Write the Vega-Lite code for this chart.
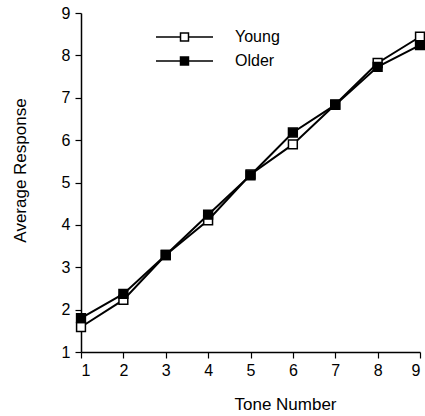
{
  "$schema": "https://vega.github.io/schema/vega-lite/v6.json",
  "autosize": "none",
  "width": 339,
  "height": 339,
  "padding": {"left": 81, "top": 13, "right": 5, "bottom": 64},
  "background": "white",
  "config": {
    "view": {"stroke": null},
    "font": "Liberation Sans",
    "axis": {
      "grid": false,
      "domainColor": "black",
      "domainWidth": 1.5,
      "tickColor": "black",
      "tickWidth": 1.2,
      "tickSize": 6,
      "labelColor": "black",
      "labelFont": "Liberation Sans",
      "labelFontSize": 16,
      "titleColor": "black",
      "titleFont": "Liberation Sans",
      "titleFontSize": 17,
      "titleFontWeight": "normal"
    }
  },
  "data": {
    "values": [
      {"tone": 1, "group": "Young", "response": 1.59},
      {"tone": 2, "group": "Young", "response": 2.23},
      {"tone": 3, "group": "Young", "response": 3.29},
      {"tone": 4, "group": "Young", "response": 4.11},
      {"tone": 5, "group": "Young", "response": 5.19},
      {"tone": 6, "group": "Young", "response": 5.9},
      {"tone": 7, "group": "Young", "response": 6.84},
      {"tone": 8, "group": "Young", "response": 7.82},
      {"tone": 9, "group": "Young", "response": 8.44},
      {"tone": 1, "group": "Older", "response": 1.8},
      {"tone": 2, "group": "Older", "response": 2.37},
      {"tone": 3, "group": "Older", "response": 3.29},
      {"tone": 4, "group": "Older", "response": 4.24},
      {"tone": 5, "group": "Older", "response": 5.17},
      {"tone": 6, "group": "Older", "response": 6.18},
      {"tone": 7, "group": "Older", "response": 6.83},
      {"tone": 8, "group": "Older", "response": 7.73},
      {"tone": 9, "group": "Older", "response": 8.24}
    ]
  },
  "encoding": {
    "x": {
      "field": "tone",
      "type": "quantitative",
      "scale": {"domain": [1, 9], "nice": false, "zero": false},
      "axis": {
        "values": [1, 2, 3, 4, 5, 6, 7, 8, 9],
        "format": "d",
        "labelPadding": 4,
        "title": "Tone Number",
        "titleX": 204,
        "titleY": 57,
        "titleAlign": "center",
        "titleBaseline": "alphabetic"
      }
    },
    "y": {
      "field": "response",
      "type": "quantitative",
      "scale": {"domain": [1, 9], "nice": false, "zero": false},
      "axis": {
        "values": [1, 2, 3, 4, 5, 6, 7, 8, 9],
        "format": "d",
        "labelPadding": 5,
        "title": "Average Response",
        "titleX": -56,
        "titleY": 157,
        "titleAngle": -90,
        "titleAlign": "center",
        "titleBaseline": "alphabetic"
      }
    }
  },
  "layer": [
    {
      "mark": {"type": "line", "color": "black", "strokeWidth": 2},
      "encoding": {"detail": {"field": "group"}}
    },
    {
      "mark": {"type": "point", "shape": "square", "filled": true, "size": 78, "stroke": "black", "strokeWidth": 1.5, "opacity": 1},
      "encoding": {
        "fill": {
          "field": "group",
          "type": "nominal",
          "sort": null,
          "scale": {"domain": ["Young", "Older"], "range": ["white", "black"]},
          "legend": {
            "title": null,
            "orient": "none",
            "legendX": 93,
            "legendY": 13.5,
            "symbolType": "M-3,0H-0.42M0.42,0H3M-0.42,-0.42H0.42V0.42H-0.42Z",
            "symbolSize": 361,
            "symbolStrokeColor": "black",
            "symbolStrokeWidth": 1.5,
            "symbolOpacity": 1,
            "labelFont": "Liberation Sans",
            "labelFontSize": 16,
            "labelColor": "black",
            "labelOffset": 40,
            "rowPadding": 5
          }
        }
      }
    }
  ]
}
